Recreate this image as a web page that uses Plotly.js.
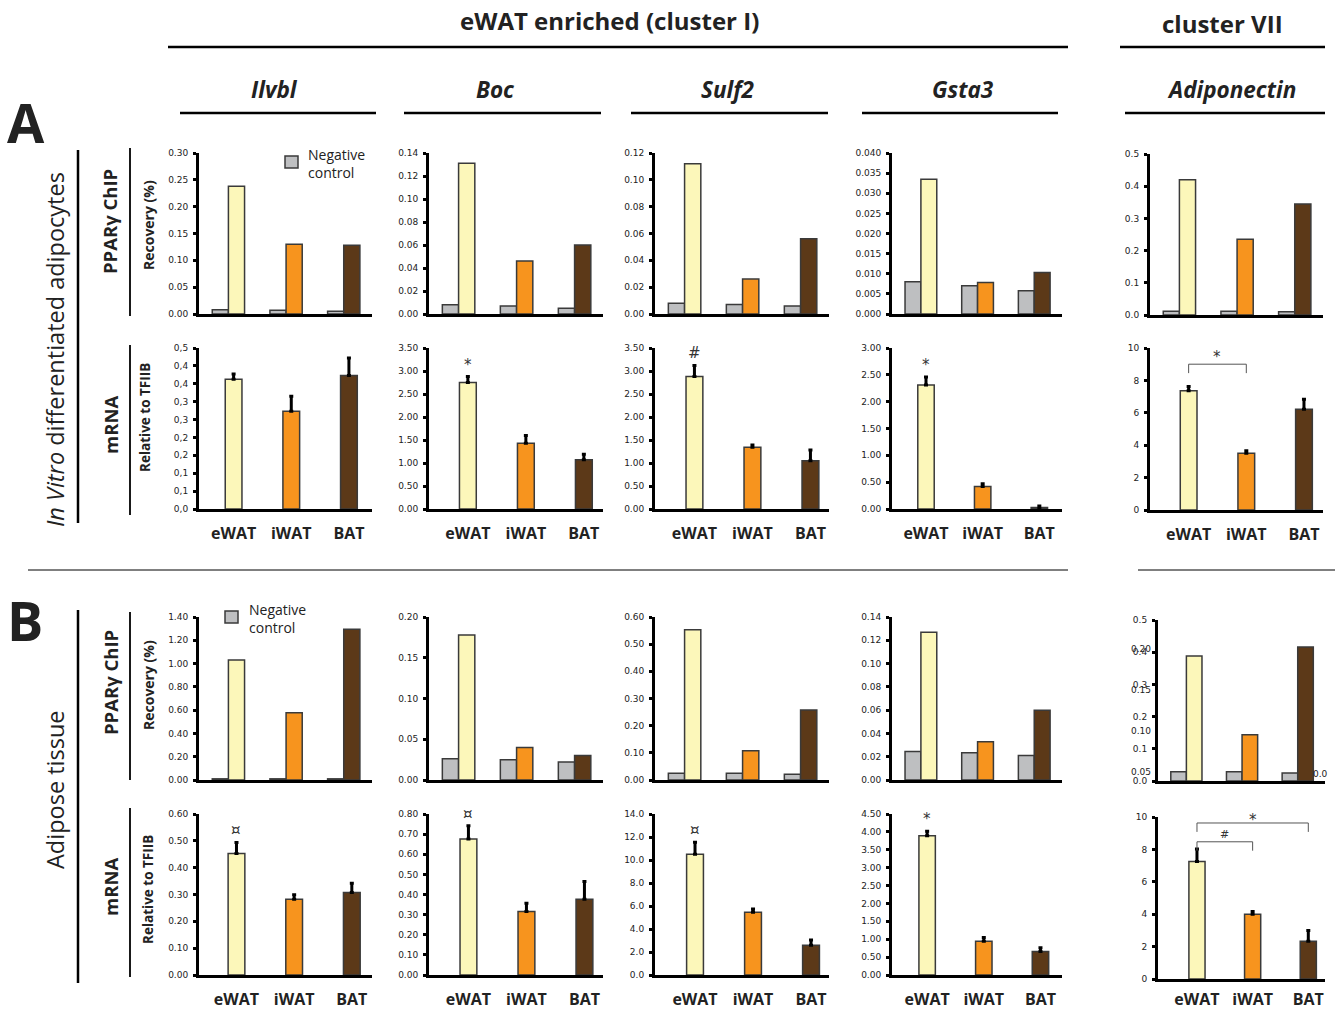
<!DOCTYPE html>
<html><head><meta charset="utf-8">
<script src="https://cdn.plot.ly/plotly-3.0.1.min.js"></script>
<style>html,body{margin:0;padding:0;background:#fff}#chart{width:1343px;height:1009px}</style>
</head><body><div id="chart"></div>
<script>
// ---------------- DATA ----------------
const tissues = ['eWAT','iWAT','BAT'];
const genes = ['Ilvbl','Boc','Sulf2','Gsta3','Adiponectin'];
const tissueColors = ['#FCF7BA','#F7941E','#5C3918'];
const negColor = '#BEBFC1';

// A: in vitro differentiated adipocytes
const chipVitroNeg = [[0.008,0.007,0.005],[0.008,0.007,0.005],[0.008,0.007,0.006],[0.0080,0.0070,0.0058],[0.012,0.012,0.010]];
const chipVitro    = [[0.238,0.130,0.128],[0.131,0.046,0.060],[0.112,0.026,0.056],[0.0335,0.0078,0.0103],[0.42,0.235,0.345]];
const mrnaVitro    = [[0.363,0.273,0.373],[2.75,1.43,1.07],[2.88,1.34,1.05],[2.31,0.42,0.03],[7.36,3.50,6.22]];
const mrnaVitroErr = [[0.014,0.042,0.049],[0.13,0.17,0.12],[0.24,0.05,0.23],[0.15,0.05,0.026],[0.27,0.15,0.61]];
// B: adipose tissue
const chipTissueNeg = [[0.010,0.010,0.010],[0.026,0.025,0.022],[0.025,0.025,0.021],[0.0244,0.0233,0.021],[0.029,0.029,0.025]];
const chipTissue    = [[1.03,0.577,1.294],[0.178,0.040,0.030],[0.553,0.108,0.258],[0.127,0.0328,0.060],[0.388,0.144,0.416]];
const mrnaTissue    = [[0.453,0.282,0.307],[0.676,0.316,0.376],[10.5,5.45,2.58],[3.89,0.94,0.66],[7.25,4.00,2.33]];
const mrnaTissueErr = [[0.041,0.017,0.035],[0.066,0.040,0.089],[1.04,0.29,0.46],[0.13,0.11,0.10],[0.77,0.16,0.66]];

// significance marks above eWAT
const sigVitro  = ['','*','#','*',''];
const sigTissue = ['¤','¤','¤','*',''];
// brackets on Adiponectin mRNA panels: [from, to, level, label]
const bracketsVitro  = [['eWAT','iWAT',9.0,'*']];
const bracketsTissue = [['eWAT','iWAT',8.47,'#'],['eWAT','BAT',9.63,'*']];

// odd tick labels
const ilvblVitroTickVals = [0,0.05,0.10,0.15,0.20,0.25,0.30,0.35,0.40,0.45];
const ilvblVitroTickText = ['0,0','0,1','0,1','0,2','0,2','0,3','0,3','0,4','0,4','0,5'];
const ghostTickVals = [0.05,0.10,0.15,0.20];
const ghostTickText = ['0.05','0.10','0.15','0.20'];

// ---------------- LAYOUT ----------------
const W=1343, H=1009;
const colX = [[199,372],[429,603],[655,829],[892,1062],[1150,1323]];
const colX5B = [1158,1325];
const rowY = [[153,314],[348,509],[617,780],[814,975]];
const rowY5 = [[154,315],[348,510],[620,781],[817,979]];
// [max, dtick, format]
const yCfg = [
 [[0.30,0.05,'.2f'],[0.14,0.02,'.2f'],[0.12,0.02,'.2f'],[0.040,0.005,'.3f'],[0.5,0.1,'.1f']],
 [[0.45,0.05,null],[3.5,0.5,'.2f'],[3.5,0.5,'.2f'],[3.0,0.5,'.2f'],[10,2,'d']],
 [[1.4,0.2,'.2f'],[0.20,0.05,'.2f'],[0.60,0.1,'.2f'],[0.14,0.02,'.2f'],[0.5,0.1,'.1f']],
 [[0.60,0.1,'.2f'],[0.80,0.1,'.2f'],[14,2,'.1f'],[4.5,0.5,'.2f'],[10,2,'d']]
];
const mrnaShift = [[0.1,0.17,0.18,0.1,0.17],[0.15,0.18,0.19,0.12,0.2]];

const PX = x => x/W, PY = y => 1 - y/H;
const data = [];
const layout = {
  width:W, height:H, margin:{l:0,r:0,t:0,b:0},
  paper_bgcolor:'#fff', plot_bgcolor:'rgba(0,0,0,0)', showlegend:false,
  font:{family:'DejaVu Sans', color:'#222'},
  annotations:[], shapes:[]
};
const barLine = {color:'#3a3a3a', width:1.5};

for (let r=0;r<4;r++){
  for (let c=0;c<5;c++){
    const n = r*5+c+1;
    const sx = n===1?'':String(n);
    const xr = 'x'+sx, yr = 'y'+sx;
    const isChip = r%2===0;
    const vitro = r<2;
    const xd = (c===4 && r>=2) ? colX5B : colX[c];
    const yd = c===4 ? rowY5[r] : rowY[r];
    const cfg = yCfg[r][c];
    const s = isChip ? 0 : mrnaShift[vitro?0:1][c];
    layout['xaxis'+sx] = {
      domain:[PX(xd[0]),PX(xd[1])], anchor:yr, type:'category',
      range:[-0.5-s, 2.5-s], showline:true, linecolor:'#000', linewidth:3,
      ticks:'', showticklabels:!isChip, showgrid:false, zeroline:false, fixedrange:true,
      tickfont:{family:'Open Sans', size:16, weight:'bold', color:'#222'},
      ticklabelstandoff:(r===3 && c===4) ? 4 : 8
    };
    const ya = {
      domain:[PY(yd[1]),PY(yd[0])], anchor:xr, range:[0,cfg[0]],
      showline:true, linecolor:'#000', linewidth:3, ticks:'outside', ticklen:3,
      tickwidth:3, tickcolor:'#000', showgrid:false, zeroline:false, fixedrange:true,
      tickfont:{family:'DejaVu Sans', size:9, color:'#222'}, ticklabelstandoff:3
    };
    if (cfg[2]===null){ ya.tickmode='array'; ya.tickvals=ilvblVitroTickVals; ya.ticktext=ilvblVitroTickText; }
    else { ya.tick0=0; ya.dtick=cfg[1]; ya.tickformat=cfg[2]; }
    layout['yaxis'+sx] = ya;

    if (isChip){
      const neg = vitro ? chipVitroNeg[c] : chipTissueNeg[c];
      const val = vitro ? chipVitro[c] : chipTissue[c];
      data.push({type:'bar', x:tissues, y:neg, xaxis:xr, yaxis:yr, width:0.28, offset:-0.27,
        marker:{color:negColor, line:barLine}, hoverinfo:'skip', name:'Negative control'});
      data.push({type:'bar', x:tissues, y:val, xaxis:xr, yaxis:yr, width:0.28, offset:0.01,
        marker:{color:tissueColors, line:barLine}, hoverinfo:'skip'});
    } else {
      const val = vitro ? mrnaVitro[c] : mrnaTissue[c];
      const err = vitro ? mrnaVitroErr[c] : mrnaTissueErr[c];
      data.push({type:'bar', x:tissues, y:val, xaxis:xr, yaxis:yr, width:0.29, offset:-0.145,
        marker:{color:tissueColors, line:barLine}, hoverinfo:'skip',
        error_y:{type:'data', symmetric:false, array:err, arrayminus:[0,0,0], color:'#000', thickness:3, width:2}});
      const sig = vitro ? sigVitro[c] : sigTissue[c];
      if (sig){
        layout.annotations.push({xref:xr, yref:yr, x:tissues[0], y:val[0]+err[0], text:sig,
          showarrow:false, yanchor:'bottom', yshift:1, font:{family:'DejaVu Sans', size:15, color:'#333'}});
      }
    }
  }
}
// significance brackets on Adiponectin mRNA panels
[[bracketsVitro,'x10','y10',10,[-4]],[bracketsTissue,'x20','y20',10,[-1,-8]]].forEach(([br,xr,yr,mx,shifts])=>{
  const drop = mx*0.055;
  br.forEach((b,k)=>{
    const i0 = tissues.indexOf(b[0]), i1 = tissues.indexOf(b[1]);
    layout.shapes.push({type:'line', xref:xr, yref:yr, x0:i0, x1:i1, y0:b[2], y1:b[2], line:{color:'#555',width:1}});
    layout.shapes.push({type:'line', xref:xr, yref:yr, x0:i0, x1:i0, y0:b[2], y1:b[2]-drop, line:{color:'#555',width:1}});
    layout.shapes.push({type:'line', xref:xr, yref:yr, x0:i1, x1:i1, y0:b[2], y1:b[2]-drop, line:{color:'#555',width:1}});
    layout.annotations.push({xref:xr, yref:yr, x:(i0+i1)/2, y:b[2], text:b[3], showarrow:false,
      yanchor:'bottom', yshift:shifts[k], font:{family:'DejaVu Sans', size:b[3]==='#'?11:15, color:'#333'}});
  });
});

// ghost axis on tissue Adiponectin ChIP
layout.yaxis21 = {overlaying:'y15', anchor:'x15', side:'left', range:[0.039,0.235], tickmode:'array',
  tickvals:ghostTickVals, ticktext:ghostTickText, showline:false, ticks:'', showgrid:false, zeroline:false,
  tickfont:{family:'DejaVu Sans', size:9, color:'#222'}, ticklabelstandoff:6, fixedrange:true};
data.push({type:'scatter', x:[], y:[], xaxis:'x15', yaxis:'y21', hoverinfo:'skip'});
layout.annotations.push({xref:'paper', yref:'paper', x:PX(1330), y:PY(781), text:'0.0', showarrow:false,
  font:{family:'DejaVu Sans', size:9, color:'#222'}});

// ---------------- DECORATION ----------------
const line = (x0,y0,x1,y1,w)=>layout.shapes.push({type:'line', xref:'paper', yref:'paper',
  x0:PX(x0), y0:PY(y0), x1:PX(x1), y1:PY(y1), line:{color:'#000', width:w}});
const txt = (x,y,t,size,opt={})=>layout.annotations.push(Object.assign({xref:'paper', yref:'paper',
  x:PX(x), y:PY(y), text:t, showarrow:false, xanchor:'center', yanchor:'middle',
  font:{family:'Open Sans', size:size, color:'#222'}}, opt));

line(168,47,1068,47,2.5); line(1120,47,1325,47,2.5);
[[180,376],[404,601],[631,828],[862,1058],[1125,1325]].forEach(p=>line(p[0],113,p[1],113,2.5));
line(78,150,78,523,2.5); line(78,610,78,983,2.5);
[[148,316],[345,515],[612,780],[808,977]].forEach(p=>line(130,p[0],130,p[1],1.8));
line(28,570,1068,570,1); line(1138,570,1335,570,1);

txt(609,21,'<b>eWAT enriched (cluster I)</b>',24);
txt(1222,23,'<b>cluster VII</b>',24);
const geneX = [274,495,728,963,1231];
genes.forEach((g,i)=>txt(geneX[i],90,'<b><i>'+g+'</i></b>',22.5));
txt(26,122,'<b>A</b>',54);
txt(25,620,'<b>B</b>',54);
txt(55,350,'<i>In Vitro</i> differentiated adipocytes',23.5,{textangle:-90});
txt(55,790,'Adipose tissue',23.5,{textangle:-90});
txt(110,222,'<b>PPARγ ChIP</b>',18.5,{textangle:-90});
txt(110,425,'<b>mRNA</b>',18.5,{textangle:-90});
txt(110,683,'<b>PPARγ ChIP</b>',18.5,{textangle:-90});
txt(110,887,'<b>mRNA</b>',18.5,{textangle:-90});
txt(148,225,'<b>Recovery (%)</b>',14,{textangle:-90});
txt(145,418,'<b>Relative to TFIIB</b>',13.5,{textangle:-90});
txt(148,685,'<b>Recovery (%)</b>',14,{textangle:-90});
txt(148,890,'<b>Relative to TFIIB</b>',13.5,{textangle:-90});

// legend keys
[[285,156,306,164],[225,611,247,618]].forEach(p=>{
  layout.shapes.push({type:'rect', xref:'paper', yref:'paper', x0:PX(p[0]), x1:PX(p[0]+13),
    y0:PY(p[1]+12), y1:PY(p[1]), fillcolor:negColor, line:{color:'#3a3a3a', width:1.5}});
  txt(p[2],p[3],'Negative<br>control',14,{xanchor:'left', align:'left'});
});

Plotly.newPlot('chart', data, layout, {staticPlot:true});
</script></body></html>
